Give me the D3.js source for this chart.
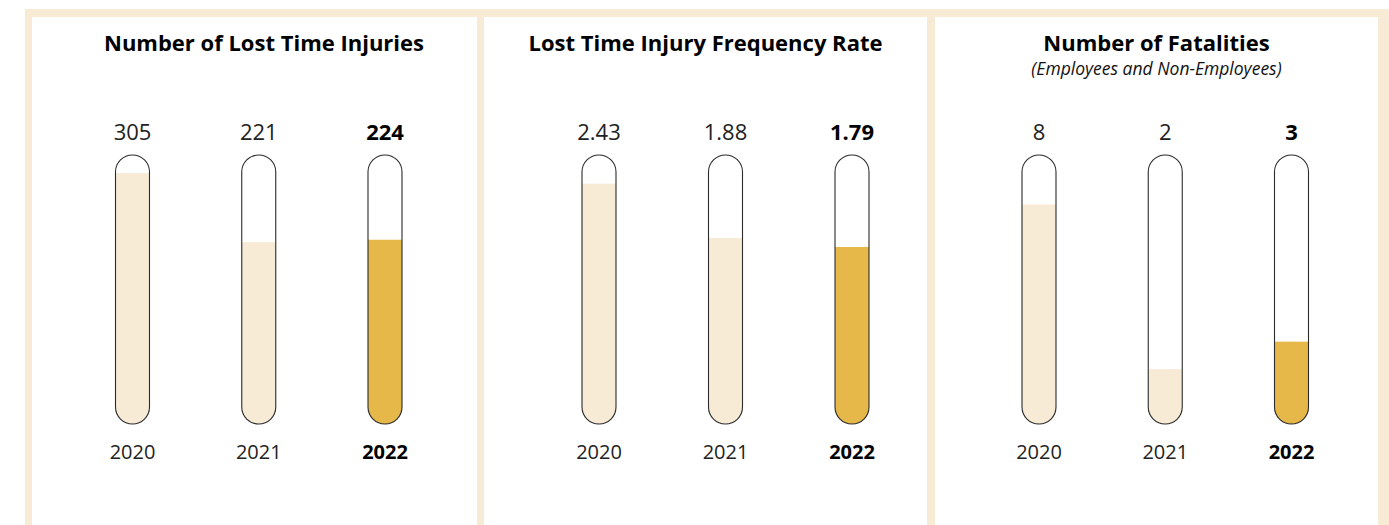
<!DOCTYPE html>
<html>
<head>
<meta charset="utf-8">
<script src="https://cdn.jsdelivr.net/npm/d3@7"></script>
<style>
  html, body { margin: 0; padding: 0; background: #ffffff; }
  svg { display: block; }
  text { font-family: "Open Sans", "Noto Sans", sans-serif; }
</style>
</head>
<body>
<svg id="chart" width="1389" height="525"></svg>
<script>
// Safety indicators, 2020-2022
const years = ["2020", "2021", "2022"];
const lostTimeInjuries = [305, 221, 224];
const injuryFrequencyRate = [2.43, 1.88, 1.79];
const fatalities = [8, 2, 3];
const panelTitles = ["Number of Lost Time Injuries", "Lost Time Injury Frequency Rate", "Number of Fatalities"];
const panelSubtitles = ["", "", "(Employees and Non-Employees)"];
const valueFormats = [d3.format("d"), d3.format(".2f"), d3.format("d")];
const scaleMax = [327, 2.72, 9.8];

const W = 1389, H = 525;
const frameColor = "#f8ebd5";
const paleFill = "#f7ebd6";
const highlightFill = "#e6b84a";
const highlightYear = "2022";

const svg = d3.select("#chart");

// beige frame with three white panels
const panels = [
  { x0: 32, x1: 477, tubes: [132.5, 385], title: 264 },
  { x0: 484, x1: 927, tubes: [599, 852], title: 705.5 },
  { x0: 935, x1: 1378, tubes: [1039, 1291.5], title: 1156.5 }
];
const series = [lostTimeInjuries, injuryFrequencyRate, fatalities];

svg.append("rect")
  .attr("x", 25).attr("y", 9).attr("width", W - 25).attr("height", H - 9)
  .attr("fill", frameColor);

const tubeTop = 155, tubeBottom = 424, tubeW = 34;

panels.forEach((p, i) => {
  const g = svg.append("g");
  g.append("rect")
    .attr("x", p.x0).attr("y", 17).attr("width", p.x1 - p.x0).attr("height", H - 17)
    .attr("fill", "#ffffff");

  g.append("text")
    .attr("x", p.title).attr("y", 51)
    .attr("text-anchor", "middle")
    .attr("font-size", 22).attr("font-weight", 700).attr("fill", "#000")
    .text(panelTitles[i]);

  if (panelSubtitles[i]) {
    g.append("text")
      .attr("x", p.title).attr("y", 75)
      .attr("text-anchor", "middle")
      .attr("font-size", 17.5).attr("font-style", "italic").attr("fill", "#111")
      .text(panelSubtitles[i]);
  }

  const x = d3.scalePoint().domain(years).range(p.tubes);
  const y = d3.scaleLinear().domain([0, scaleMax[i]]).range([tubeBottom, tubeTop]);
  const rows = years.map((yr, j) => ({ year: yr, value: series[i][j] }));

  const tube = g.selectAll("g.tube").data(rows).join("g").attr("class", "tube");

  tube.each(function (d, j) {
    const t = d3.select(this);
    const id = `clip-${i}-${j}`;
    t.append("clipPath").attr("id", id)
      .append("rect")
      .attr("x", x(d.year) - tubeW / 2).attr("y", tubeTop)
      .attr("width", tubeW).attr("height", tubeBottom - tubeTop)
      .attr("rx", tubeW / 2).attr("ry", tubeW / 2);

    t.append("rect")
      .attr("clip-path", `url(#${id})`)
      .attr("x", x(d.year) - tubeW / 2).attr("y", y(d.value))
      .attr("width", tubeW).attr("height", tubeBottom - y(d.value))
      .attr("fill", d.year === highlightYear ? highlightFill : paleFill);

    t.append("rect")
      .attr("x", x(d.year) - tubeW / 2).attr("y", tubeTop)
      .attr("width", tubeW).attr("height", tubeBottom - tubeTop)
      .attr("rx", tubeW / 2).attr("ry", tubeW / 2)
      .attr("fill", "none").attr("stroke", "#2b2b2b").attr("stroke-width", 1.1);

    const bold = d.year === highlightYear;
    t.append("text")
      .attr("x", x(d.year)).attr("y", 140)
      .attr("text-anchor", "middle")
      .attr("font-size", 22).attr("font-weight", bold ? 700 : 400)
      .attr("fill", bold ? "#000" : "#222")
      .text(valueFormats[i](d.value));

    t.append("text")
      .attr("x", x(d.year)).attr("y", 459)
      .attr("text-anchor", "middle")
      .attr("font-size", 20).attr("font-weight", bold ? 700 : 400)
      .attr("fill", bold ? "#000" : "#222")
      .text(d.year);
  });
});
</script>
</body>
</html>
